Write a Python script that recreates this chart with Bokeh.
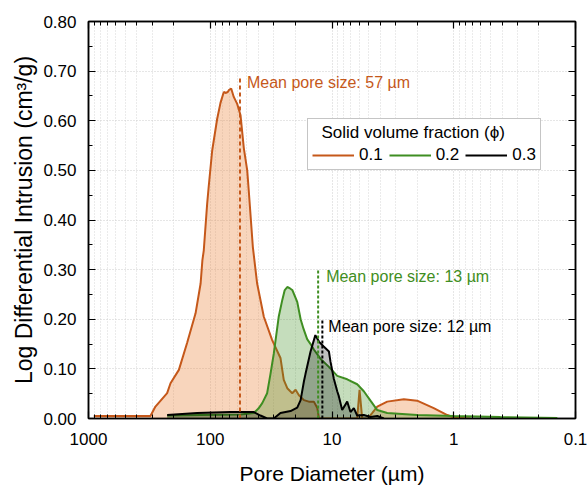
from bokeh.plotting import figure
from bokeh.models import (Range1d, FixedTicker, CustomJSTickFormatter, NumeralTickFormatter,
                          LogAxis, LinearAxis, Legend, LegendItem)
from bokeh.core.properties import value
from bokeh.embed import file_html
from bokeh.resources import INLINE

# ---------------- data ----------------
# pore diameter (µm) and log differential intrusion (cm³/g)
phi01_d = [905, 310, 282, 226, 212, 181, 155, 132, 120, 116, 113, 106, 103, 96.4, 87.7, 82.4,
           77.4, 75.0, 71.8, 70.2, 67.3, 64.1, 60.1, 56.4, 53.0, 49.7, 48.3, 44.7, 41.2, 36.3,
           31.0, 26.5, 24.9, 23.3, 21.2, 19.9, 18.7, 17.0, 15.5, 14.1, 13.2, 12.8, 6.21, 5.94,
           5.65, 5.08, 4.68, 4.25, 3.52, 2.57, 2.00, 1.46, 1.13, 1.0, 0.73]
phi01_v = [0.005, 0.005, 0.024, 0.051, 0.071, 0.098, 0.152, 0.212, 0.272, 0.319, 0.339, 0.433,
           0.467, 0.540, 0.604, 0.636, 0.658, 0.656, 0.658, 0.662, 0.665, 0.648, 0.634, 0.611,
           0.545, 0.500, 0.460, 0.346, 0.272, 0.205, 0.158, 0.122, 0.078, 0.061, 0.051, 0.058,
           0.047, 0.037, 0.034, 0.034, 0.021, 0.0, 0.0, 0.058, 0.0, 0.0, 0.011, 0.024, 0.034,
           0.039, 0.036, 0.021, 0.007, 0.002, 0.0]

phi02_d = [225.8, 120.3, 56.4, 43.9, 40.2, 37.4, 34.1, 32.0, 30.1, 27.4, 25.6, 24.5, 23.3, 22.1,
           21.2, 19.3, 18.1, 17.1, 16.0, 15.0, 14.1, 12.4, 10.6, 9.06, 7.50, 6.21, 5.48, 4.83,
           4.25, 3.52, 2.00, 1.00, 0.413, 0.141]
phi02_v = [0.006, 0.007, 0.008, 0.011, 0.020, 0.031, 0.051, 0.090, 0.130, 0.205, 0.239, 0.258,
           0.265, 0.262, 0.259, 0.235, 0.200, 0.180, 0.160, 0.150, 0.139, 0.120, 0.104, 0.086,
           0.079, 0.069, 0.055, 0.036, 0.017, 0.011, 0.007, 0.005, 0.003, 0.001]

phi03_d = [225.8, 128, 68.2, 43.9, 38.7, 34.1, 30.1, 26.5, 21.9, 19.3, 18.1, 17.0, 16.5, 15.0,
           13.7, 12.8, 11.7, 10.6, 10.3, 9.66, 9.06, 8.79, 8.25, 7.50, 7.05, 6.62, 6.21, 5.48,
           4.83, 4.25, 3.75]
phi03_v = [0.007, 0.011, 0.013, 0.013, 0.006, 0.0, 0.0, 0.011, 0.015, 0.022, 0.037, 0.075,
           0.090, 0.135, 0.168, 0.155, 0.145, 0.135, 0.115, 0.080, 0.055, 0.045, 0.017, 0.034,
           0.013, 0.021, 0.006, 0.007, 0.003, 0.005, 0.0]

series_labels = ["0.1", "0.2", "0.3"]
mean_pore = [57, 13, 12]
mean_texts = ["Mean pore size: 57 µm", "Mean pore size: 13 µm", "Mean pore size: 12 µm"]

x_ticks = [1000, 100, 10, 1, 0.1]
y_ticks = [0.0, 0.1, 0.2, 0.3, 0.4, 0.5, 0.6, 0.7, 0.8]

# ---------------- style ----------------
FONT = "Liberation Sans"
C_ORANGE = "#c5581a"
C_ORANGE_FILL = "#ec8a45"
C_GREEN = "#3f8e22"
C_BLACK = "#000000"
line_tops = [0.69, 0.30, 0.198]

p = figure(width=587, height=488, x_axis_type="log",
           x_range=Range1d(1000, 0.1), y_range=Range1d(0, 0.8),
           output_backend="svg", toolbar_location=None,
           min_border_left=88, min_border_right=12, min_border_top=21, min_border_bottom=70)
p.background_fill_color = "white"
p.border_fill_color = "white"
p.outline_line_color = "black"
p.outline_line_width = 1.5

minor_x = []
for dec in [0.1, 1, 10, 100]:
    for m in range(2, 10):
        minor_x.append(dec * m)
xticker = FixedTicker(ticks=x_ticks, minor_ticks=minor_x)
minor_y = [round(0.05 + 0.1 * i, 2) for i in range(8)]
yticker = FixedTicker(ticks=y_ticks, minor_ticks=minor_y)

xfmt = CustomJSTickFormatter(code="return tick >= 1 ? tick.toFixed(0) : String(tick);")
blank_fmt = CustomJSTickFormatter(code="return '';")

def style_axis(ax):
    ax.axis_line_width = 1.5
    ax.axis_line_color = "black"
    ax.major_tick_in = 7
    ax.major_tick_out = 0
    ax.minor_tick_in = 4
    ax.minor_tick_out = 0
    ax.major_tick_line_width = 1.2
    ax.minor_tick_line_width = 1.0
    ax.major_tick_line_color = "black"
    ax.minor_tick_line_color = "black"
    ax.major_label_text_font = FONT
    ax.major_label_text_font_size = "17px"
    ax.major_label_text_color = "black"
    ax.axis_label_text_font = FONT
    ax.axis_label_text_font_style = "normal"
    ax.axis_label_text_color = "black"

xa = p.xaxis[0]
xa.ticker = xticker
xa.formatter = xfmt
style_axis(xa)
xa.axis_label = "Pore Diameter (µm)"
xa.axis_label_text_font_size = "21px"
xa.major_label_standoff = 14
xa.axis_label_standoff = 14

ya = p.yaxis[0]
ya.ticker = yticker
ya.formatter = NumeralTickFormatter(format="0.00")
style_axis(ya)
ya.axis_label = "Log Differential Intrusion (cm³/g)"
ya.axis_label_text_font_size = "23px"
ya.major_label_standoff = 12
ya.axis_label_standoff = 3

top = LogAxis(ticker=xticker, formatter=blank_fmt)
style_axis(top)
top.major_label_text_font_size = "1px"
top.major_label_standoff = 0
p.add_layout(top, "above")

right = LinearAxis(ticker=yticker, formatter=blank_fmt)
style_axis(right)
right.major_label_text_font_size = "1px"
right.major_label_standoff = 0
p.add_layout(right, "right")

p.xgrid.grid_line_color = "#cccccc"
p.xgrid.grid_line_dash = "1 2"
p.xgrid.minor_grid_line_color = "#d6d6d6"
p.xgrid.minor_grid_line_dash = "1 2"
p.ygrid.grid_line_color = "#cccccc"
p.ygrid.grid_line_dash = "1 2"

# ---------------- curves ----------------
p.varea(x=phi01_d, y1=[0] * len(phi01_d), y2=phi01_v, fill_color=C_ORANGE_FILL, fill_alpha=0.36)
l1 = p.line(phi01_d, phi01_v, line_color=C_ORANGE, line_width=2)
p.varea(x=phi02_d, y1=[0] * len(phi02_d), y2=phi02_v, fill_color=C_GREEN, fill_alpha=0.3)
l2 = p.line(phi02_d, phi02_v, line_color=C_GREEN, line_width=2)
p.varea(x=phi03_d, y1=[0] * len(phi03_d), y2=phi03_v, fill_color="black", fill_alpha=0.25)
l3 = p.line(phi03_d, phi03_v, line_color=C_BLACK, line_width=2)

# mean pore size markers
colors = [C_ORANGE, C_GREEN, C_BLACK]
dashes = ["4 3", "3 2", "3 2"]
x_off = [7, 8, 6]
for m, t, txt, c, d, xo in zip(mean_pore, line_tops, mean_texts, colors, dashes, x_off):
    p.segment(x0=[m], y0=[0], x1=[m], y1=[t], line_color=c, line_width=2, line_dash=d)
    p.text(x=[m], y=[t], text=[txt], text_color=c, text_font=value(FONT),
           text_font_size="16px", text_baseline="top", text_align="left",
           x_offset=xo, y_offset=-2)

legend = Legend(items=[LegendItem(label=series_labels[0], renderers=[l1]),
                       LegendItem(label=series_labels[1], renderers=[l2]),
                       LegendItem(label=series_labels[2], renderers=[l3])],
                orientation="horizontal", location=(219, 248),
                title="\u00a0\u00a0Solid volume fraction (ϕ)")
legend.title_text_font = FONT
legend.title_text_font_size = "17px"
legend.title_text_font_style = "normal"
legend.title_text_color = "black"
legend.title_standoff = 2
legend.label_text_font = FONT
legend.label_text_font_size = "17px"
legend.label_text_color = "black"
legend.glyph_width = 42
legend.glyph_height = 20
legend.label_height = 20
legend.label_standoff = 5
legend.spacing = 6
legend.padding = 4
legend.margin = 0
legend.border_line_color = "#8c8c8c"
legend.border_line_width = 1
legend.background_fill_color = "white"
legend.background_fill_alpha = 1
p.add_layout(legend)

open("out.html", "w").write(file_html(p, INLINE))
